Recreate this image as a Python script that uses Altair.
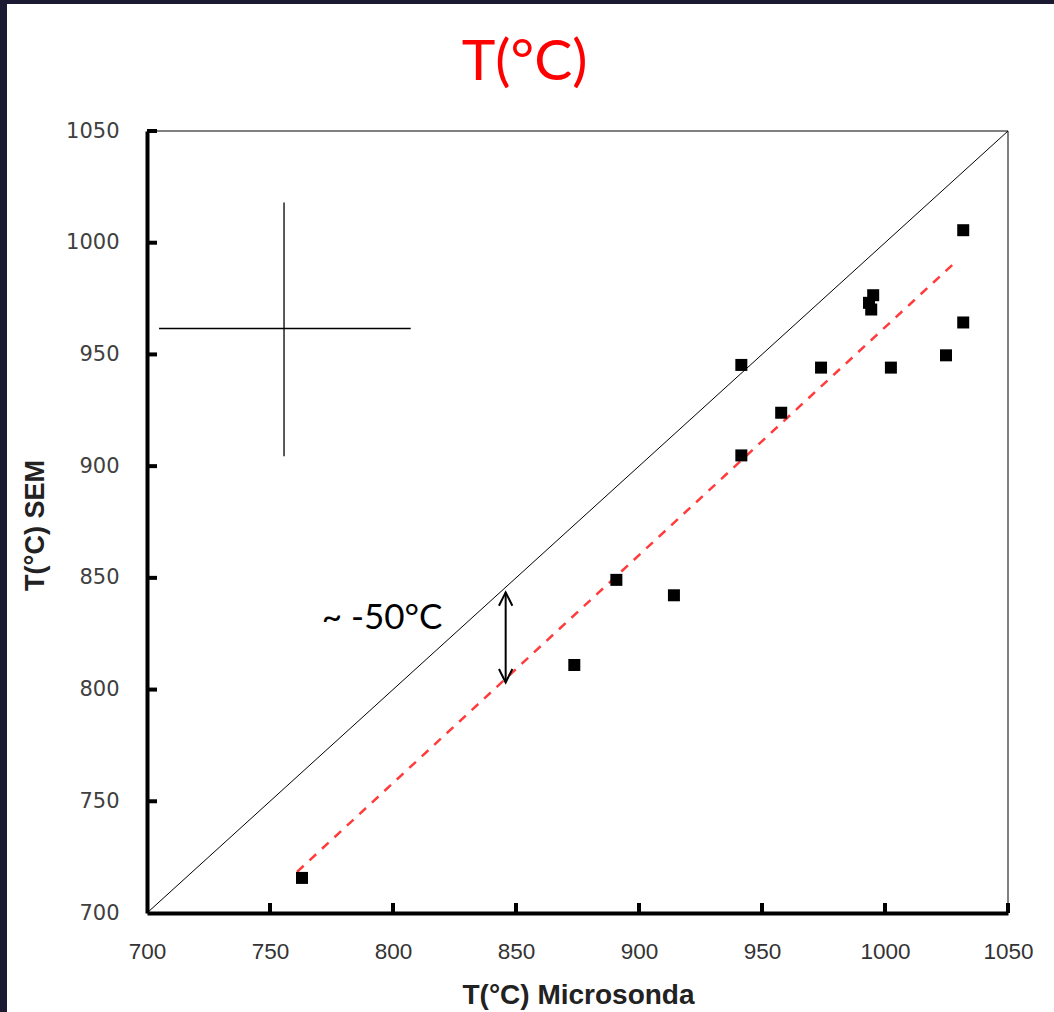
import altair as alt
import pandas as pd

# ---- data ----
micro = [763.0, 873.7, 890.8, 914.2, 941.6, 941.6, 957.8, 974.0, 993.5, 995.2, 994.4, 1002.4, 1024.8, 1031.8, 1031.8]
sem = [715.7, 811.0, 849.1, 842.2, 945.3, 904.8, 923.9, 944.1, 973.1, 976.5, 970.1, 944.1, 949.6, 1005.6, 964.3]

identity_x = [700, 1050]
identity_y = [700, 1050]

trend_x = [761.0, 1028.0]
trend_y = [718.4, 990.7]

cross_cx = 755.7
cross_cy = 961.6
cross_x_range = [704.9, 807.2]
cross_y_range = [904.4, 1018.0]

arrow_x = 845.8
arrow_y = [803.2, 843.5]

note_x = 771.0
note_y = 827.1
note_text = "~ -50°C"

title_text = "T(°C)"
title_x = 853.5
title_y = 1072.8

tick_values = [700, 750, 800, 850, 900, 950, 1000, 1050]
inner_ticks = [750, 800, 850, 900, 950, 1000, 1050]

W, H = 861, 782

xscale = alt.Scale(domain=[700, 1050], nice=False, zero=False)
yscale = alt.Scale(domain=[700, 1050], nice=False, zero=False)

xaxis = alt.Axis(
    values=tick_values, format="d", ticks=False, tickSize=0, grid=False,
    domainColor="black", domainWidth=4,
    labelFont="Liberation Sans", labelFontSize=22.5, labelColor="#333333",
    labelPadding=27, labelFlush=False,
    title="T(°C) Microsonda", titleFont="Liberation Sans", titleFontSize=28,
    titleFontWeight="bold", titleColor="#222222", titleX=431, titleY=90,
    titleBaseline="alphabetic", titleAlign="center", zindex=1,
)
yaxis = alt.Axis(
    values=tick_values, format="d", ticks=False, tickSize=0, grid=False,
    domainColor="black", domainWidth=4,
    labelFont="DejaVu Sans", labelFontSize=21, labelColor="#404040",
    labelPadding=28, labelFlush=False,
    title="T(°C) SEM", titleFont="Liberation Sans", titleFontSize=27,
    titleFontWeight="bold", titleColor="#222222", titleX=-104, titleY=394, titleAngle=-90,
    titleBaseline="alphabetic", titleAlign="center", zindex=1,
)


def X(f):
    return alt.X(f, type="quantitative", scale=xscale, axis=xaxis)


def Y(f):
    return alt.Y(f, type="quantitative", scale=yscale, axis=yaxis)


pts = pd.DataFrame({"x": micro, "y": sem})
ident = pd.DataFrame({"x": identity_x, "y": identity_y})
trend = pd.DataFrame({"x": trend_x, "y": trend_y})

# white slide panel (leaves the dark slide edge visible)
panel = alt.Chart(pd.DataFrame({"a": [0]})).mark_rect(fill="white", stroke=None).encode(
    x=alt.value(-140), x2=alt.value(907), y=alt.value(-127), y2=alt.value(881)
)

frame_top = alt.Chart(pd.DataFrame({"y": [1050], "x": [700], "x2": [1050]})).mark_rule(
    color="black", strokeWidth=1
).encode(x=X("x"), x2="x2", y=Y("y"))
frame_right = alt.Chart(pd.DataFrame({"x": [1050], "y": [700], "y2": [1050]})).mark_rule(
    color="black", strokeWidth=1
).encode(x=X("x"), y=Y("y"), y2="y2")

yticks = alt.Chart(pd.DataFrame({"y": inner_ticks})).mark_rule(color="black", strokeWidth=4).encode(
    y=Y("y"), x=alt.value(0), x2=alt.value(10)
)
xticks = alt.Chart(pd.DataFrame({"x": inner_ticks})).mark_rule(color="black", strokeWidth=4).encode(
    x=X("x"), y=alt.value(H), y2=alt.value(H - 10)
)

ident_line = alt.Chart(ident).mark_line(color="black", strokeWidth=1).encode(x=X("x"), y=Y("y"))
trend_line = alt.Chart(trend).mark_line(color="#ff3b3b", strokeWidth=2.5, strokeDash=[9, 8]).encode(
    x=X("x"), y=Y("y")
)

cross_v = alt.Chart(pd.DataFrame({"x": [cross_cx], "y": [cross_y_range[0]], "y2": [cross_y_range[1]]})).mark_rule(
    color="black", strokeWidth=1.3
).encode(x=X("x"), y=Y("y"), y2="y2")
cross_h = alt.Chart(pd.DataFrame({"y": [cross_cy], "x": [cross_x_range[0]], "x2": [cross_x_range[1]]})).mark_rule(
    color="black", strokeWidth=1.3
).encode(y=Y("y"), x=X("x"), x2="x2")

points = alt.Chart(pts).mark_square(size=144, color="black", opacity=1).encode(x=X("x"), y=Y("y"))

arrow = alt.Chart(pd.DataFrame({"x": [arrow_x], "y": [arrow_y[0]], "y2": [arrow_y[1]]})).mark_rule(
    color="black", strokeWidth=2
).encode(x=X("x"), y=Y("y"), y2="y2")
head_top = alt.Chart(pd.DataFrame({"x": [arrow_x], "y": [arrow_y[1]]})).mark_point(
    shape="M-1,2L0,0L1,2", filled=False, stroke="black", strokeWidth=2, size=180, opacity=1
).encode(x=X("x"), y=Y("y"))
head_bot = alt.Chart(pd.DataFrame({"x": [arrow_x], "y": [arrow_y[0]]})).mark_point(
    shape="M-1,-2L0,0L1,-2", filled=False, stroke="black", strokeWidth=2, size=180, opacity=1
).encode(x=X("x"), y=Y("y"))

note = alt.Chart(pd.DataFrame({"x": [note_x], "y": [note_y], "t": [note_text]})).mark_text(
    align="left", baseline="alphabetic", font="Lato", fontSize=35, color="black"
).encode(x=X("x"), y=Y("y"), text="t:N")

title = alt.Chart(pd.DataFrame({"x": [title_x], "y": [title_y], "t": [title_text]})).mark_text(
    align="center", baseline="alphabetic", font="Lato", fontSize=57, color="#ff0000"
).encode(x=X("x"), y=Y("y"), text="t:N")

chart = alt.layer(
    panel, frame_top, frame_right, ident_line, trend_line, cross_v, cross_h,
    points, arrow, head_top, head_bot, note, title, yticks, xticks,
).properties(
    width=W, height=H,
).configure(
    background="#1c1a33",
    padding={"left": 7, "top": 4, "right": 0, "bottom": 0},
).configure_view(stroke=None)

chart.save("out.html", embed_options={"renderer": "svg", "actions": False})
